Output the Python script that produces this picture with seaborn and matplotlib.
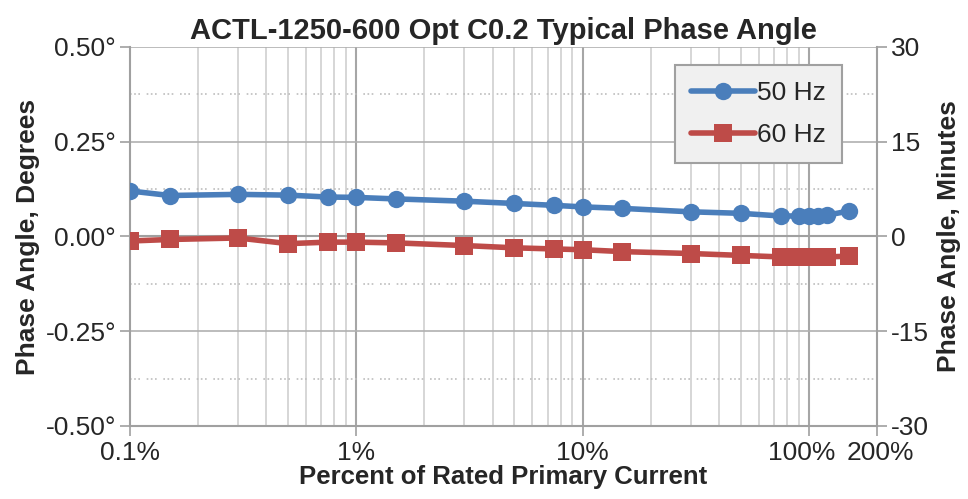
import numpy as np
import pandas as pd
import matplotlib
matplotlib.use('Agg')
import matplotlib.pyplot as plt
import matplotlib.transforms as mtrans
import seaborn as sns
from matplotlib.ticker import FixedLocator, NullFormatter

# data
pct = [0.1, 0.15, 0.3, 0.5, 0.75, 1, 1.5, 3, 5, 7.5, 10, 15, 30, 50, 75, 90, 100, 110, 120, 150]
hz50 = [0.120, 0.108, 0.111, 0.109, 0.104, 0.103, 0.099, 0.093, 0.087, 0.082, 0.078, 0.074,
        0.065, 0.061, 0.054, 0.054, 0.054, 0.055, 0.056, 0.067]
hz60 = [-0.012, -0.008, -0.004, -0.019, -0.015, -0.015, -0.017, -0.024, -0.030, -0.033, -0.035,
        -0.040, -0.045, -0.050, -0.054, -0.054, -0.054, -0.054, -0.054, -0.052]
xticks = [0.1, 1, 10, 100, 200]
xticklabels = ['0.1%', '1%', '10%', '100%', '200%']
yticks = [-0.5, -0.25, 0, 0.25, 0.5]
yticklabels = ['-0.50°', '-0.25°', '0.00°', '0.25°', '0.50°']
rticks = [-30, -15, 0, 15, 30]

df = pd.DataFrame({'pct': pct * 2, 'phase': hz50 + hz60,
                   'freq': ['50 Hz'] * len(pct) + ['60 Hz'] * len(pct)})

sns.set_style('white')
plt.rcParams['font.family'] = ['Liberation Sans', 'DejaVu Sans']

fig = plt.figure(figsize=(9.68, 4.99), dpi=100)
ax = fig.add_axes([0.1343, 0.1463, 0.906 - 0.1343, 0.906 - 0.1463])

sns.lineplot(data=df, x='pct', y='phase', hue='freq', style='freq',
             palette=['#4a7ebb', '#be4b48'], markers=['o', 's'], dashes=False,
             linewidth=4, markersize=12.5, markeredgewidth=0, ax=ax, zorder=5)

ax.set_xscale('log')
ax.set_xlim(0.1, 200)
ax.set_ylim(-0.5, 0.5)

# vertical grid
minors = [m * 10.0 ** e for e in range(-1, 3) for m in range(2, 10) if m * 10.0 ** e < 200]
for v in minors:
    ax.axvline(v, color='#cfcfcf', lw=1.2, zorder=0)
for v in [1, 10, 100]:
    ax.axvline(v, color='#a6a6a6', lw=1.5, zorder=0)
# horizontal grid
for h in [-0.25, 0.25, 0.5]:
    ax.axhline(h, color='#b0b0b0', lw=1.2, zorder=0)
ax.axhline(0, color='#a0a0a0', lw=1.5, zorder=1)
for h in [-0.375, -0.125, 0.125, 0.375]:
    ax.axhline(h, color='#bdbdbd', lw=1.2, ls=(0, (1, 1.5, 1, 1.5, 1, 4)), zorder=0)

ax.xaxis.set_major_locator(FixedLocator(xticks))
ax.set_xticklabels(xticklabels)
ax.xaxis.set_minor_formatter(NullFormatter())
ax.tick_params(axis='x', which='minor', length=0)
ax.set_yticks(yticks)
ax.set_yticklabels(yticklabels)
ax.tick_params(axis='both', which='major', labelsize=19, length=7, width=1.2,
               color='#a0a0a0', direction='out', pad=3)
ax.tick_params(axis='x', which='major', pad=4)
ax.tick_params(left=True, bottom=True)

# nudge the crowded 100% / 200% labels apart
labs = ax.get_xticklabels()
labs[3].set_transform(labs[3].get_transform() + mtrans.ScaledTranslation(-7 / 100, 0, fig.dpi_scale_trans))
labs[4].set_transform(labs[4].get_transform() + mtrans.ScaledTranslation(3 / 100, 0, fig.dpi_scale_trans))

for s in ['left', 'bottom', 'right']:
    ax.spines[s].set_color('#a0a0a0')
    ax.spines[s].set_linewidth(1.5)
ax.spines['top'].set_visible(False)

ax.set_xlabel('Percent of Rated Primary Current', fontsize=18.5, fontweight='bold', labelpad=0)
ax.set_ylabel('Phase Angle, Degrees', fontsize=19, fontweight='bold', labelpad=4)
ax.set_title('ACTL-1250-600 Opt C0.2 Typical Phase Angle', fontsize=21, fontweight='bold', pad=6)

ax2 = ax.twinx()
ax2.set_ylim(-30, 30)
ax2.set_yticks(rticks)
ax2.set_yticklabels([str(t) for t in rticks])
ax2.tick_params(axis='y', labelsize=19, length=7, width=1.2, color='#a0a0a0', right=True, pad=3)
for s in ax2.spines.values():
    s.set_visible(False)
ax2.set_ylabel('Phase Angle, Minutes', fontsize=19, fontweight='bold', labelpad=6)

leg = ax.legend(loc='upper right', bbox_to_anchor=(0.953, 0.9525), fontsize=19,
                frameon=True, fancybox=False, framealpha=1, handlelength=2.4,
                handletextpad=0.1, labelspacing=0.7, borderpad=0.6, borderaxespad=0)
leg.get_frame().set_facecolor('#f0f0f0')
leg.get_frame().set_edgecolor('#a0a0a0')
leg.get_frame().set_linewidth(1.5)
leg.set_title(None)

fig.savefig('out.png', dpi=100)
